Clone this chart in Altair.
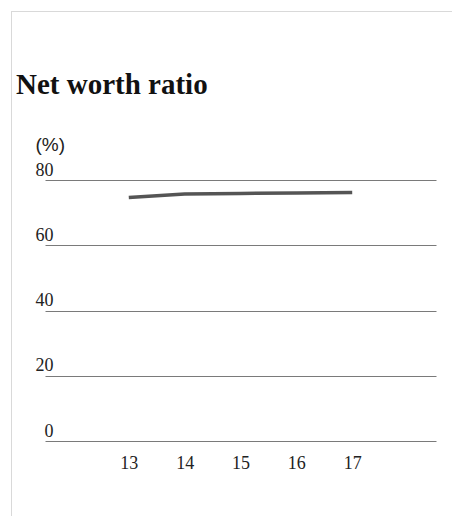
import altair as alt
import pandas as pd

years = [13, 14, 15, 16, 17]
ratio = [74.6, 75.7, 75.9, 76.0, 76.2]
y_ticks = [0, 20, 40, 60, 80]

df = pd.DataFrame({"year": years, "ratio": ratio})

line = alt.Chart(df).mark_line(color="#555555", strokeWidth=3.5).encode(
    x=alt.X("year:Q",
            scale=alt.Scale(domain=[11.5, 18.5], nice=False, zero=False),
            axis=alt.Axis(values=years, format="d", grid=False, domain=False, ticks=False,
                          labelFont="Liberation Serif", labelFontSize=18, labelColor="#222222",
                          labelBaseline="top", labelPadding=13, title=None)),
    y=alt.Y("ratio:Q",
            scale=alt.Scale(domain=[0, 80], nice=False),
            axis=alt.Axis(values=y_ticks, grid=True, gridColor="#7a7a7a", gridWidth=1,
                          domain=False, ticks=False,
                          labelFont="Liberation Serif", labelFontSize=18, labelColor="#222222",
                          labelAlign="right", labelBaseline="alphabetic",
                          labelPadding=-8, labelOffset=-5,
                          title="(%)", titleAngle=0, titleAlign="left", titleBaseline="alphabetic",
                          titleX=-10, titleY=-30, titleFont="Liberation Sans",
                          titleFontSize=19, titleFontWeight="normal", titleColor="#222222")),
)

border_left = alt.Chart(df).mark_rule(color="#d9d9d9", strokeWidth=1).encode(
    x=alt.value(-33.5), y=alt.value(-169), y2=alt.value(336)
)
border_top = alt.Chart(df).mark_rule(color="#d9d9d9", strokeWidth=1).encode(
    x=alt.value(-34), x2=alt.value(407), y=alt.value(-168.5)
)

chart = alt.layer(border_left, border_top, line).properties(
    width=391, height=261,
    background="white",
    padding={"left": 45, "top": 180, "right": 16, "bottom": 75},
    autosize=alt.AutoSizeParams(type="none"),
    title=alt.TitleParams("Net worth ratio", anchor="start", frame="group",
                          font="Liberation Serif", fontSize=29, fontWeight="bold",
                          color="#111111", baseline="alphabetic", dx=-29, offset=-112),
).configure_view(stroke=None, strokeWidth=0)

chart.save("out.html", embed_options={"renderer": "svg", "actions": False})
